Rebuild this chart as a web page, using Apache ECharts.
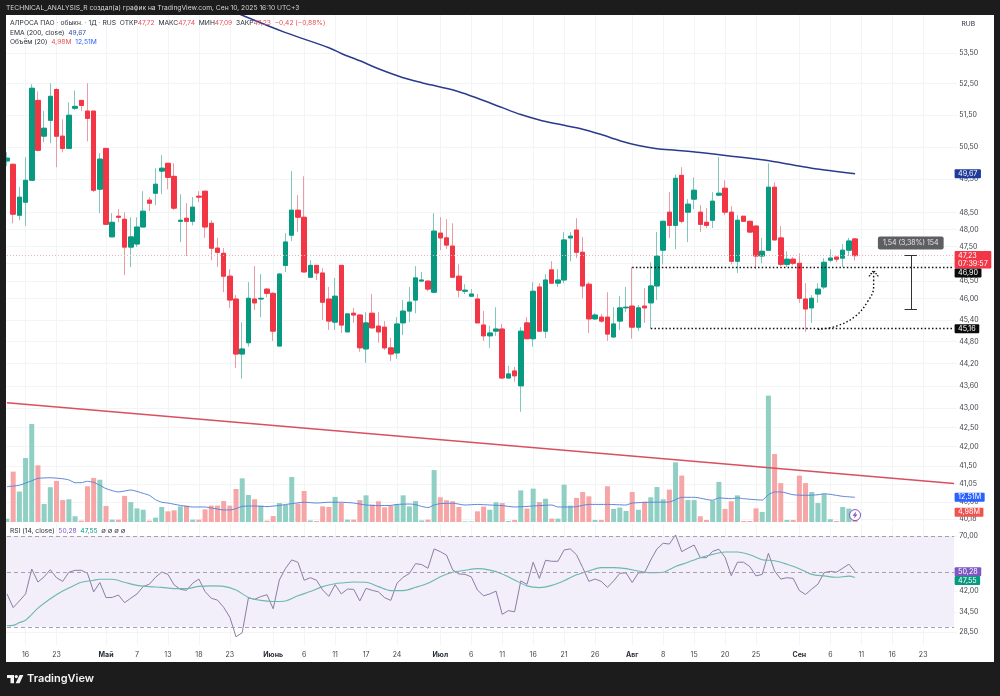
<!DOCTYPE html>
<html>
<head>
<meta charset="utf-8">
<title>АЛРОСА ПАО</title>
<style>html,body{margin:0;padding:0;background:#1c1c1c}#chart{width:1000px;height:696px}</style>
<script src="https://cdn.jsdelivr.net/npm/echarts@6/dist/echarts.min.js"></script>
</head>
<body>
<div id="chart"></div>
<script>
// Daily OHLC of ALRS, one entry per session
const open = [50.06,49.96,48.42,48.81,49.47,51.96,50.83,51.33,52.31,50.83,50.45,51.71,51.96,51.62,51.62,49.20,50.45,47.78,48.39,48.30,47.48,47.57,48.07,48.87,49.08,49.75,49.99,49.59,48.24,48.33,48.24,48.99,49.14,48.18,47.45,47.30,46.64,45.99,44.46,44.77,45.99,45.99,46.27,46.15,44.68,46.95,47.83,48.57,48.36,46.61,46.95,46.73,45.99,45.34,46.95,45.07,45.59,45.54,44.60,45.59,45.23,45.20,44.63,44.49,45.32,45.65,45.96,46.50,46.50,46.18,47.89,47.75,47.51,46.64,46.21,46.07,45.99,45.26,44.96,45.09,45.15,43.81,44.00,43.60,45.32,44.88,46.33,45.09,46.82,46.44,46.53,47.75,47.98,47.33,46.41,45.43,45.48,45.48,44.93,45.37,45.74,45.79,45.20,45.79,45.88,46.36,47.39,48.51,48.12,49.62,48.51,48.90,48.51,48.21,48.27,49.02,49.23,48.51,47.07,48.39,48.24,48.10,47.22,47.39,49.26,47.75,46.98,47.13,47.01,45.99,45.74,46.13,46.33,47.10,47.19,47.16,47.39,47.72];
const close = [50.15,48.45,48.96,49.47,52.35,50.39,51.08,52.09,50.83,50.45,51.49,51.77,51.80,51.39,49.17,50.12,48.15,48.21,48.36,47.48,47.78,48.07,48.54,48.78,49.35,49.84,49.56,48.63,48.27,48.24,48.66,48.96,48.07,47.45,47.33,46.64,45.96,44.46,44.60,46.01,45.88,46.01,46.15,45.09,46.70,47.63,48.57,48.36,46.76,46.95,46.73,45.90,45.37,46.07,45.26,45.57,45.54,44.63,45.32,45.18,45.07,44.63,44.46,45.29,45.65,45.90,46.59,46.53,46.27,47.95,47.75,47.54,46.61,46.24,46.24,46.13,45.32,44.96,45.04,45.15,43.81,43.92,43.87,45.09,44.88,46.21,45.09,46.53,46.44,46.53,47.69,47.80,47.33,46.36,45.43,45.54,45.37,45.01,45.29,45.74,45.76,45.20,45.74,45.74,46.36,47.22,48.24,48.12,49.53,48.24,48.75,49.17,48.15,48.12,48.84,49.08,48.51,47.07,48.27,48.24,47.92,47.22,47.36,49.26,47.69,46.98,47.13,47.01,46.01,45.71,46.01,46.27,47.04,47.16,47.13,47.39,47.66,47.23];
const low = [49.90,48.18,48.27,48.10,49.47,50.36,50.64,50.61,49.87,50.33,50.45,51.65,51.62,50.67,49.11,48.48,48.15,47.78,48.21,46.67,46.90,47.48,48.07,48.54,48.72,49.05,49.20,48.57,47.63,47.22,48.12,48.81,47.75,47.10,46.90,46.18,45.74,44.08,43.79,44.66,45.68,45.48,46.04,44.82,44.68,46.76,47.66,47.92,46.76,46.61,46.53,45.40,45.12,45.12,45.04,45.07,45.32,44.52,44.22,45.18,44.77,44.57,44.27,44.33,44.98,45.34,45.59,46.47,46.21,46.18,47.39,47.42,46.61,46.04,46.13,46.07,45.32,44.82,44.63,44.96,43.79,43.81,43.71,42.91,44.88,44.66,45.07,44.90,46.44,46.33,46.44,47.07,47.16,46.01,45.04,45.40,45.32,44.82,44.90,45.12,45.62,44.88,45.09,45.32,45.16,45.96,46.98,47.75,47.42,48.18,47.63,48.60,47.92,48.04,48.04,48.99,48.42,46.98,46.73,48.24,47.92,46.84,47.01,47.39,47.69,46.93,46.90,46.95,45.88,45.07,45.32,45.88,46.27,47.04,47.04,46.90,47.22,47.09];
const high = [50.33,49.96,49.26,50.18,52.48,52.25,51.62,52.51,52.35,51.36,51.90,52.28,51.96,52.51,51.62,50.30,50.45,48.48,48.60,48.51,48.36,48.36,49.14,48.96,49.84,50.24,49.99,49.99,49.05,48.78,48.96,49.14,49.14,48.27,47.75,47.45,46.84,46.10,45.34,46.47,46.93,46.70,46.30,46.18,46.73,47.89,49.75,49.02,49.59,47.10,46.95,46.87,46.33,46.59,46.95,45.57,45.74,45.54,45.62,46.13,45.62,45.37,44.90,45.48,45.96,46.33,46.93,46.76,46.50,48.48,48.36,48.30,48.18,46.98,46.41,46.27,46.13,45.65,45.23,45.76,45.29,44.14,44.11,45.20,45.48,46.47,46.44,46.70,47.07,46.84,47.92,47.92,48.33,47.78,46.47,45.59,45.57,46.18,45.76,46.07,46.33,46.90,45.82,46.30,47.04,47.92,48.24,49.11,49.65,49.87,48.90,49.56,48.72,48.63,49.11,50.18,49.47,48.69,48.42,48.39,48.24,48.10,47.75,49.99,49.41,48.10,47.36,47.19,47.30,46.44,46.10,46.44,47.16,47.42,47.19,47.57,47.75,47.74];

// Volume in millions of shares and its 20-day average, read at the listed sessions
const volume = [1.7,25.5,15.4,32.4,49.6,28.7,9.1,17.6,20.8,11.1,11.5,2.9,0.7,18.1,22.3,21.4,8.1,1.2,1.2,13.2,10.1,6.9,6.2,0.7,2.2,7.6,5.4,5.9,7.9,8.3,1.2,1.2,6.4,8.3,8.3,10.6,8.3,16.7,22.1,13.7,11.5,8.3,0.7,3.0,9.6,8.6,22.8,9.3,15.7,0.8,0.5,7.9,7.6,12.7,9.6,1.2,1.2,11.1,13.5,8.8,10.5,7.4,8.3,9.1,13.5,7.9,10.6,0.8,1.2,26.3,12.5,11.0,10.5,7.6,0.3,0.3,5.4,7.8,6.2,10.0,9.6,0.5,1.0,16.0,6.8,16.9,10.1,11.8,1.7,1.7,18.9,8.3,12.2,15.2,13.0,1.0,1.0,18.1,6.6,7.3,5.6,15.2,6.2,10.3,12.5,17.7,11.5,16.4,30.2,23.5,11.1,11.1,2.9,1.0,10.8,20.3,6.6,10.5,13.5,0.5,0.5,6.9,5.1,64.0,34.4,19.7,1.0,1.0,23.5,19.7,15.2,9.6,14.2,1.4,0.5,7.6,6.8,4.98];
const volumeAvgAt = [0,2,4,5,7,9,10,11,12,13,14,15,16,18,20,22,23,24,25,26,28,30,32,33,35,36,37,38,40,42,44,46,48,50,52,54,56,58,60,62,63,65,66,67,68,69,70,72,74,76,78,80,82,84,86,88,89,91,92,94,97,100,101,104,107,109,111,114,115,117,118,119,122,123,124,125,127,129,131,132,133,135,137];
const volumeAvg = [17.9,18.6,20.9,22.1,22.4,21.9,21.3,19.9,19.9,20.6,20.1,18.6,16.9,15.2,16.2,14.5,13.5,11.3,10.0,9.6,8.4,7.6,7.6,7.1,6.1,6.1,6.8,7.9,8.1,7.8,8.4,9.3,10.0,9.6,10.0,10.0,9.6,8.6,8.3,8.4,8.9,9.1,8.8,7.9,7.3,8.6,9.3,9.5,8.6,8.9,8.6,8.3,7.6,7.9,8.3,8.6,7.6,7.6,7.8,8.9,8.9,8.6,9.6,10.0,10.1,12.5,12.5,11.0,12.2,11.8,12.2,11.8,11.1,13.8,15.2,15.2,13.8,13.5,13.8,14.3,14.0,13.0,12.51];

// EMA 200 of the close
const emaAt = [37,38,45,52,54,57,60,64,67,70,73,76,80,83,86,89,93,96,99,102,105,108,112,117,121,124,127,130,134,137];
const ema = [54.86,54.75,54.17,53.67,53.48,53.24,52.98,52.69,52.53,52.39,52.24,52.03,51.73,51.51,51.34,51.21,51.05,50.88,50.69,50.54,50.44,50.39,50.32,50.21,50.12,50.04,49.94,49.84,49.74,49.67];

// RSI 14 and its smoothing line
const rsi = [40.8,35.9,38.2,40.8,51.5,45.6,47.9,51.2,47.5,45.9,50.0,50.9,50.9,49.5,41.6,45.4,39.4,39.5,40.4,37.6,39.2,40.8,43.7,44.7,47.7,50.1,49.0,44.4,42.6,42.2,45.1,46.9,41.7,39.2,38.5,36.0,32.8,27.3,28.4,39.3,38.8,39.8,40.5,35.5,46.5,51.9,56.1,54.9,46.4,47.5,46.4,42.3,39.9,44.5,40.8,42.7,42.6,38.2,43.0,42.2,41.6,39.4,38.4,45.1,47.7,49.4,54.2,53.7,51.9,62.2,60.6,58.7,51.1,49.2,49.0,47.9,42.3,40.1,40.8,41.9,33.7,34.9,34.5,46.1,44.6,54.9,47.2,55.9,55.4,55.4,61.6,62.2,58.9,52.2,45.9,46.9,45.9,43.4,46.1,49.5,49.7,45.4,49.7,49.8,56.1,62.2,65.6,65.1,70.9,60.6,62.6,64.5,57.3,57.3,60.8,62.0,57.5,48.4,54.9,54.9,52.7,48.3,49.0,59.7,50.6,46.9,47.5,47.2,42.1,40.6,42.7,44.7,49.8,50.4,50.0,51.9,53.9,50.28];
const rsiAvgAt = [0,1,2,3,5,7,9,11,12,14,15,17,19,21,23,25,27,29,31,33,35,37,39,41,43,45,47,49,51,53,54,56,58,60,62,64,66,68,70,72,74,76,78,80,82,84,86,88,90,92,94,96,98,100,102,104,106,107,108,110,112,114,116,118,120,122,124,126,128,130,132,134,136,137];
const rsiAvg = [30.3,30.4,31.2,31.9,35.7,39.0,41.9,44.4,45.5,46.4,46.8,46.8,45.5,44.2,43.7,43.4,42.9,42.9,43.8,44.0,43.8,42.3,39.5,38.4,38.0,38.2,40.1,41.7,43.7,44.9,45.2,45.6,45.5,43.7,42.1,42.1,43.4,45.1,47.9,50.0,50.9,51.7,51.0,49.2,46.5,44.0,43.3,44.2,46.2,48.8,50.6,52.2,52.2,51.7,50.6,49.8,50.0,51.3,52.7,54.9,57.3,59.1,60.4,60.4,58.9,56.2,55.7,53.9,51.7,49.0,48.3,47.7,48.2,47.55];

// Time axis: 154 daily slots, with a label on the sessions listed below
const slotCount = 154;
const tickAt = [3,8,16,21,26,31,36,43,48,53,58,63,70,75,80,85,90,95,101,106,111,116,121,128,133,138,143,148];
const tickText = ['16','23','Май','7','13','18','23','Июнь','6','11','17','24','Июл','6','11','16','21','26','Авг','8','15','20','25','Сен','6','11','16','23'];
const monthNames = ['Май','Июнь','Июл','Авг','Сен'];
const categories = Array.from({length: slotCount}, (_, i) => { const k = tickAt.indexOf(i); return k < 0 ? '' : tickText[k]; });

// Price and RSI scale ticks
const priceTicks = [53.5,52.5,51.5,50.5,49.5,48.5,48,47.5,47,46.5,46,45.4,44.8,44.2,43.6,43,42.5,42,41.5,41.05,40.6,40.18];
const rsiTicks = [70,50,42,34.5,28.5];

// Drawn levels and the measured move
const lastPrice = 47.23, levelHigh = 46.90, levelLow = 45.16, rangeLow = 45.69;
const trendStart = 43.15, trendEnd = 41.06;
const lastVolume = 4.98, lastVolumeAvg = 12.51, lastRsi = 50.28, lastRsiAvg = 47.55, lastEma = 49.67;

// Hand-drawn arrow from the low back up to the broken level
const arrowAt = [131,134,137,139,140,140];
const arrowPrice = [45.14,45.23,45.50,45.91,46.33,46.79];

const GREEN = '#089981', RED = '#f23645', FRAME = '#1c1c1c', INK = '#2a2e39';
const FONT = 'Inter', TEXT_SIZE = 7, HEAD_SIZE = 6.7;
const comma = v => v.toFixed(2).replace('.', ',');
const pairs = (at, vals) => at.map((x, i) => [x, vals[i]]);
const lastSlot = slotCount - 1;

const wickCandles = open.map((o, i) => [o, close[i], low[i], high[i]]);
const bodyCandles = open.map((o, i) => [o, close[i], Math.min(o, close[i]), Math.max(o, close[i])]);
const volumeBars = volume.map((v, i) => ({value: v, itemStyle: {color: close[i] >= open[i] ? '#8fcfc4' : '#f6a6a6'}}));

// Coloured tag sitting on the price scale
function tag(value, text, bg, dy) {
  return {
    coord: [lastSlot, value], symbol: 'circle', symbolSize: 1, itemStyle: {color: 'transparent'},
    label: {show: true, position: 'right', distance: 0, offset: [0, dy], formatter: text, color: '#fff',
      backgroundColor: bg, fontFamily: FONT, fontSize: 7.2, lineHeight: 8.5, padding: [0.5, 3.5, 0, 3.5], borderRadius: 1}
  };
}
const run = (color) => ({color, fontFamily: FONT, fontSize: HEAD_SIZE, fontWeight: 400});
const dots = {color: '#111', type: [1.5, 2.2], width: 1.4};

const xShared = {type: 'category', data: categories, axisLine: {show: false}, axisTick: {show: false},
  splitLine: {show: true, alignWithLabel: true, interval: (i, v) => v !== '', lineStyle: {color: '#f3f4f6', width: 1}}};
const yLabel = {color: '#3f4249', fontFamily: FONT, fontSize: TEXT_SIZE, margin: 2, showMinLabel: true, showMaxLabel: true, hideOverlap: false, formatter: comma};
const ySplit = {show: true, lineStyle: {color: '#f3f4f6', width: 1}};

const option = {
  animation: false,
  backgroundColor: '#ffffff',
  grid: [
    {left: 3.9, top: 15, width: 953.3, height: 507},
    {left: 3.9, top: 395, width: 953.3, height: 127},
    {left: 3.9, top: 524, width: 953.3, height: 121}
  ],
  xAxis: [
    Object.assign({gridIndex: 0, axisLabel: {show: false}}, xShared),
    {type: 'category', gridIndex: 1, data: categories, show: false},
    Object.assign({gridIndex: 2, position: 'bottom', axisLabel: {
      show: true, interval: (i, v) => v !== '', margin: 6, color: '#3f4249', fontFamily: FONT, fontSize: TEXT_SIZE,
      formatter: v => monthNames.includes(v) ? '{m|' + v + '}' : v,
      rich: {m: {fontWeight: 700, color: INK, fontFamily: FONT, fontSize: TEXT_SIZE}}
    }}, xShared)
  ],
  yAxis: [
    {type: 'log', logBase: 10, gridIndex: 0, position: 'right', min: 40.10, max: 54.76, axisLine: {show: false},
      axisTick: {show: false, customValues: priceTicks}, axisLabel: Object.assign({customValues: priceTicks}, yLabel), splitLine: ySplit},
    {type: 'value', gridIndex: 1, min: 0, max: 64.3, show: false, splitLine: {show: false}},
    {type: 'log', logBase: 10, gridIndex: 2, position: 'right', min: 25.29, max: 78.55, axisLine: {show: false},
      axisTick: {show: false, customValues: rsiTicks}, axisLabel: Object.assign({customValues: rsiTicks}, yLabel), splitLine: ySplit}
  ],
  title: [
    {left: 6, top: 4.5, padding: 0, text: 'TECHNICAL_ANALYSIS_R создал(а) график на TradingView.com, Сен 10, 2025 16:10 UTC+3',
      textStyle: run('#d6d6d6')},
    {left: 10, top: 19.5, padding: 0, text: '{k|АЛРОСА ПАО · обыкн. · 1Д · RUS  ОТКР}{r|47,72}{k|  МАКС}{r|47,74}{k|  МИН}{r|47,09}{k|  ЗАКР}{r|47,23}{r|  −0,42 (−0,88%)}',
      textStyle: Object.assign(run(INK), {rich: {k: run(INK), r: run('#e8505b')}})},
    {left: 10, top: 29, padding: 0, text: '{k|EMA (200, close)}{b|  49,67}',
      textStyle: Object.assign(run(INK), {rich: {k: run(INK), b: run('#2f4a9c')}})},
    {left: 10, top: 38.5, padding: 0, text: '{k|Объём (20)}{r|  4,98M}{b|  12,51M}',
      textStyle: Object.assign(run(INK), {rich: {k: run(INK), r: run('#e8505b'), b: run('#2962ff')}})},
    {left: 10, top: 527, padding: 0, text: '{k|RSI (14, close)}{p|  50,28}{g|  47,55}{k|  ∅ ∅ ∅ ∅}',
      textStyle: Object.assign(run(INK), {rich: {k: run(INK), p: run('#7e57c2'), g: run(GREEN)}})},
    {left: 961.5, top: 20, padding: 0, text: 'RUB', textStyle: run(INK)},
    {left: 27, top: 673, padding: 0, text: 'TradingView', textStyle: {color: '#f2f2f2', fontFamily: FONT, fontSize: 11, fontWeight: 600}}
  ],
  graphic: [
    {type: 'rect', z: 5, silent: true, shape: {x: 0, y: 0, width: 1000, height: 15}, style: {fill: FRAME}},
    {type: 'rect', z: 5, silent: true, shape: {x: 0, y: 662, width: 1000, height: 34}, style: {fill: FRAME}},
    {type: 'rect', z: 5, silent: true, shape: {x: 0, y: 0, width: 6, height: 696}, style: {fill: FRAME}},
    {type: 'rect', z: 5, silent: true, shape: {x: 994, y: 0, width: 6, height: 696}, style: {fill: FRAME}},
    {type: 'polygon', z: 6, silent: true, shape: {points: [[7, 675], [14, 675], [14, 683.3], [10.5, 683.3], [10.5, 678], [7, 678]]}, style: {fill: '#f2f2f2'}},
    {type: 'circle', z: 6, silent: true, shape: {cx: 16.3, cy: 676.6, r: 1.6}, style: {fill: '#f2f2f2'}},
    {type: 'polygon', z: 6, silent: true, shape: {points: [[19.6, 675], [23.4, 675], [19.6, 683.3], [15.6, 683.3]]}, style: {fill: '#f2f2f2'}}
  ],
  series: [
    {type: 'bar', name: 'Volume', xAxisIndex: 1, yAxisIndex: 1, data: volumeBars, barWidth: 5, z: 1, silent: true,
      markPoint: {silent: true, data: [
        {coord: [137, 3.5], symbol: 'circle', symbolSize: 11, itemStyle: {color: '#fff', borderColor: '#7e57c2', borderWidth: 1}, label: {show: false}},
        {coord: [137, 3.5], symbol: 'path://M6 0 L1 7 L4 7 L3 12 L8 5 L5 5 Z', symbolSize: [5, 7], itemStyle: {color: '#7e57c2'}, label: {show: false}}
      ]}},
    {type: 'line', name: 'Volume MA', xAxisIndex: 1, yAxisIndex: 1, data: pairs(volumeAvgAt, volumeAvg), showSymbol: false, symbol: 'none', smooth: 0.2,
      lineStyle: {color: '#5e86d8', width: 1}, z: 2, silent: true,
      markPoint: {silent: true, data: [
        tag(lastVolumeAvg, comma(lastVolumeAvg) + 'M', '#2962ff', 0),
        tag(lastVolume, comma(lastVolume) + 'M', '#ef5350', 0)
      ]}},
    {type: 'candlestick', name: 'Wicks', xAxisIndex: 0, yAxisIndex: 0, data: wickCandles, barWidth: 4, silent: true, z: 3,
      itemStyle: {color: '#7fc8bb', color0: '#ec9aa5', borderColor: '#7fc8bb', borderColor0: '#ec9aa5', borderWidth: 1}},
    {type: 'candlestick', name: 'АЛРОСА', xAxisIndex: 0, yAxisIndex: 0, data: bodyCandles, barWidth: 5, silent: true, z: 4,
      itemStyle: {color: GREEN, color0: RED, borderColor: GREEN, borderColor0: RED, borderWidth: 1}},
    {type: 'line', name: 'EMA 200', xAxisIndex: 0, yAxisIndex: 0, data: pairs(emaAt, ema), showSymbol: false, symbol: 'none', smooth: 0.3,
      lineStyle: {color: '#2a3a8c', width: 1.5}, z: 4, silent: true,
      markLine: {silent: true, symbol: 'none', label: {show: false}, data: [
        [{coord: [0, lastPrice], lineStyle: {color: '#e9b4ba', type: [1, 2], width: 1}}, {coord: [lastSlot, lastPrice]}],
        [{coord: [101, levelHigh], lineStyle: dots}, {coord: [lastSlot, levelHigh]}],
        [{coord: [104, levelLow], lineStyle: dots}, {coord: [lastSlot, levelLow]}],
        [{coord: [146, lastPrice], lineStyle: {color: '#333', type: 'solid', width: 1}}, {coord: [146, rangeLow]}],
        [{coord: [145, lastPrice], lineStyle: {color: '#333', type: 'solid', width: 1}}, {coord: [147, lastPrice]}],
        [{coord: [145, rangeLow], lineStyle: {color: '#333', type: 'solid', width: 1}}, {coord: [147, rangeLow]}]
      ]},
      markPoint: {silent: true, data: [
        tag(lastEma, comma(lastEma), '#1e3a9a', 0),
        tag(lastPrice, comma(lastPrice) + '\n07:39:57', RED, 4),
        tag(levelHigh, comma(levelHigh), '#0b0b0b', 6),
        tag(levelLow, comma(levelLow), '#0b0b0b', 0),
        {coord: [146, 47.6], symbol: 'circle', symbolSize: 1, itemStyle: {color: 'transparent'},
          label: {show: true, position: 'inside', formatter: '1,54 (3,38%) 154', color: '#e6e6e6', backgroundColor: '#5d5f63',
            fontFamily: FONT, fontSize: 7, padding: [3.5, 5, 2.5, 5], borderRadius: 2}}
      ]}},
    {type: 'line', name: 'Arrow', xAxisIndex: 0, yAxisIndex: 0, data: pairs(arrowAt, arrowPrice), showSymbol: false, symbol: 'none', smooth: 0.4,
      lineStyle: dots, z: 4, silent: true,
      markPoint: {silent: true, data: [
        {coord: [140, 46.72], symbol: 'path://M0 6 L5 0 L10 6', symbolSize: [9, 6],
          itemStyle: {color: 'none', borderColor: '#111', borderWidth: 1.3, borderType: [1.5, 1.5]}, label: {show: false}}
      ]}},
    {type: 'line', name: 'Trend', xAxisIndex: 0, yAxisIndex: 0, data: [[0, trendStart], [lastSlot, trendEnd]], showSymbol: false, symbol: 'none',
      lineStyle: {color: '#d8505f', width: 1.5}, z: 4, silent: true},
    {type: 'line', name: 'RSI', xAxisIndex: 2, yAxisIndex: 2, data: rsi, showSymbol: false, symbol: 'none',
      lineStyle: {color: '#8c7ea6', width: 1}, z: 3, silent: true,
      markArea: {silent: true, itemStyle: {color: '#f2eefa'}, label: {show: false}, data: [[{yAxis: 70}, {xAxis: lastSlot, yAxis: 30}]]},
      markLine: {silent: true, symbol: 'none', label: {show: false}, lineStyle: {color: '#a99fb2', type: [4, 3], width: 1}, data: [
        [{coord: [0, 70]}, {coord: [lastSlot, 70]}],
        [{coord: [0, 50]}, {coord: [lastSlot, 50]}],
        [{coord: [0, 30]}, {coord: [lastSlot, 30]}]
      ]},
      markPoint: {silent: true, data: [
        tag(lastRsi, comma(lastRsi), '#7e57c2', 0),
        tag(lastRsiAvg, comma(lastRsiAvg), GREEN, 3)
      ]}},
    {type: 'line', name: 'RSI MA', xAxisIndex: 2, yAxisIndex: 2, data: pairs(rsiAvgAt, rsiAvg), showSymbol: false, symbol: 'none', smooth: 0.3,
      lineStyle: {color: '#6db8ac', width: 1.1}, z: 3, silent: true}
  ]
};

echarts.init(document.getElementById('chart'), null, {renderer: 'canvas'}).setOption(option);
</script>
</body>
</html>
